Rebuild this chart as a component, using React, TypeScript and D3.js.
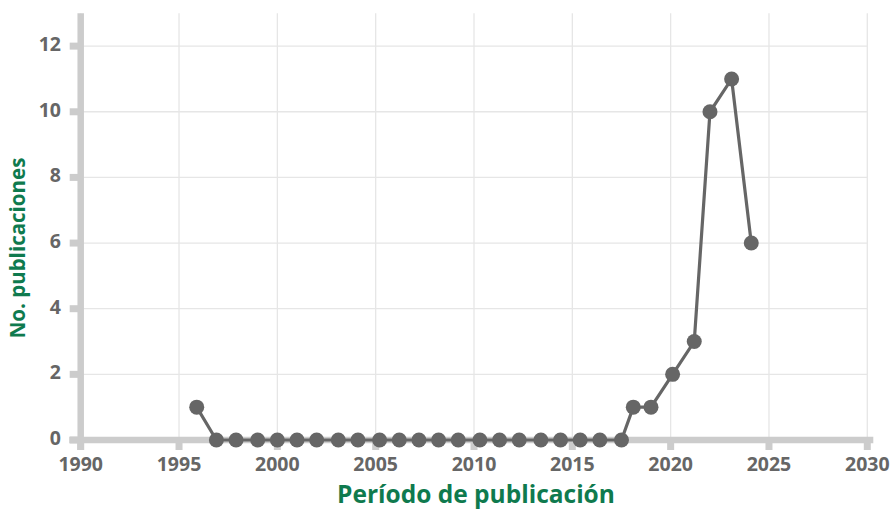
import React from "react";
import * as d3 from "d3";

const years: number[] = [
  1995.9, 1996.9, 1997.9, 1999.0, 2000.0, 2001.0, 2002.0, 2003.1, 2004.1, 2005.2,
  2006.2, 2007.2, 2008.2, 2009.2, 2010.3, 2011.3, 2012.3, 2013.4, 2014.4, 2015.4,
  2016.4, 2017.5, 2018.1, 2019.0, 2020.1, 2021.2, 2022.0, 2023.1, 2024.1,
];
const publicaciones: number[] = [
  1, 0, 0, 0, 0, 0, 0, 0, 0, 0,
  0, 0, 0, 0, 0, 0, 0, 0, 0, 0,
  0, 0, 1, 1, 2, 3, 10, 11, 6,
];
const xTicks: number[] = [1990, 1995, 2000, 2005, 2010, 2015, 2020, 2025, 2030];
const yTicks: number[] = [0, 2, 4, 6, 8, 10, 12];
const xTitle = "Período de publicación";
const yTitle = "No. publicaciones";

const W = 891;
const H = 509;
const FONT = "'Open Sans', 'Noto Sans', sans-serif";
const GREEN = "#0f7a4e";
const GRAY = "#666666";
const AXIS = "#cccccc";
const GRID = "#e6e6e6";

export default function App() {
  const x = d3.scaleLinear().domain([1990, 2030]).range([80.7, 867.3]);
  const y = d3.scaleLinear().domain([0, 13]).range([440, 13.3]);
  const data = years.map((yr, i) => ({ x: yr, y: publicaciones[i] }));
  const line = d3
    .line<{ x: number; y: number }>()
    .x((d) => x(d.x))
    .y((d) => y(d.y));

  return (
    <svg
      width={W}
      height={H}
      style={{ position: "absolute", left: 0, top: 0, background: "#fff" }}
      fontFamily={FONT}
    >
      {/* grid */}
      {xTicks.map((t) => (
        <line key={"gx" + t} x1={x(t)} x2={x(t)} y1={y(13)} y2={y(0)} stroke={GRID} strokeWidth={1.3} />
      ))}
      {yTicks.map((t) => (
        <line key={"gy" + t} x1={x(1990)} x2={x(2030)} y1={y(t)} y2={y(t)} stroke={GRID} strokeWidth={1.3} />
      ))}
      {/* x axis */}
      <line x1={69.3} x2={873.3} y1={y(0)} y2={y(0)} stroke={AXIS} strokeWidth={6.5} />
      {xTicks.map((t) => (
        <g key={"xt" + t}>
          <line x1={x(t)} x2={x(t)} y1={y(0)} y2={y(0) + 10} stroke={AXIS} strokeWidth={7} />
          <text x={x(t)} y={470.5} textAnchor="middle" fontSize={19.5} fontWeight={700} fill={GRAY}>
            {t}
          </text>
        </g>
      ))}
      {/* y axis */}
      <line x1={x(1990)} x2={x(1990)} y1={y(13)} y2={450} stroke={AXIS} strokeWidth={6.5} />
      {yTicks.map((t) => (
        <g key={"yt" + t}>
          <line x1={x(1990) - 11} x2={x(1990)} y1={y(t)} y2={y(t)} stroke={AXIS} strokeWidth={7} />
          <text x={61} y={y(t) - 2} dy="0.35em" textAnchor="end" fontSize={19.5} fontWeight={700} fill={GRAY}>
            {t}
          </text>
        </g>
      ))}
      {/* series */}
      <path d={line(data) || ""} fill="none" stroke={GRAY} strokeWidth={3.2} />
      {data.map((d, i) => (
        <circle key={"p" + i} cx={x(d.x)} cy={y(d.y)} r={7.5} fill={GRAY} />
      ))}
      {/* titles */}
      <text x={476} y={502.5} textAnchor="middle" fontSize={24.5} fontWeight={700} fill={GREEN}>
        {xTitle}
      </text>
      <text
        transform={`translate(25, 248) rotate(-90)`}
        textAnchor="middle"
        fontSize={20.5}
        fontWeight={700}
        fill={GREEN}
      >
        {yTitle}
      </text>
    </svg>
  );
}
